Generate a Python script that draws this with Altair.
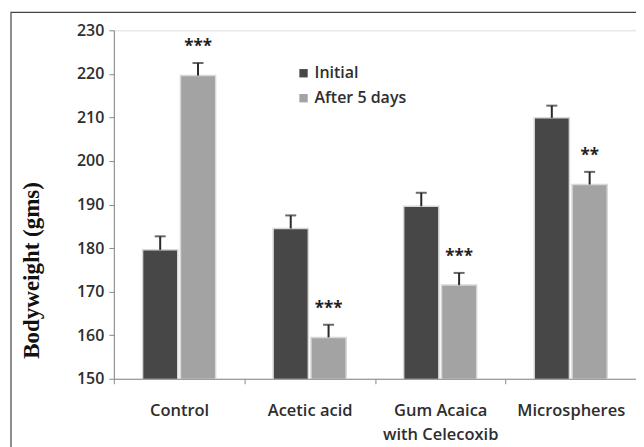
import altair as alt
import pandas as pd

groups = ["Control", "Acetic acid", "Gum Acaica|with Celecoxib", "Microspheres"]
series = ["Initial", "After 5 days"]
initial = [179.6, 184.5, 189.6, 209.9]
initial_err = [3.1, 3.0, 3.1, 2.8]
after = [219.6, 159.5, 171.5, 194.6]
after_err = [2.9, 2.9, 2.8, 2.9]
stars = ["***", "***", "***", "**"]

rows = []
for i, g in enumerate(groups):
    rows.append({"group": g, "series": series[0], "value": initial[i], "err": initial_err[i], "star": ""})
    rows.append({"group": g, "series": series[1], "value": after[i], "err": after_err[i], "star": stars[i]})
df = pd.DataFrame(rows)

FONT = "Open Sans"
W = 600
x = alt.X("group:N", sort=groups, title=None,
          scale=alt.Scale(paddingInner=0, paddingOuter=0),
          axis=alt.Axis(tickBand="extent", labelAngle=0, labelExpr="split(datum.label, '|')",
                        labelFont=FONT, labelFontSize=16.5, labelFontWeight=W, labelColor="#2e2e2e",
                        labelPadding=19, labelLineHeight=24, domainColor="#888", tickColor="#888",
                        tickSize=5, grid=False))
xo = alt.XOffset("series:N", sort=series,
                 scale=alt.Scale(paddingInner=0.07, paddingOuter=0.76))
yscale = alt.Scale(domain=[150, 230], nice=False, zero=False)
y = alt.Y("value:Q", scale=yscale,
          axis=alt.Axis(values=list(range(150, 231, 10)), grid=False, domainColor="#888",
                        tickColor="#888", tickSize=5, labelFont=FONT, labelFontSize=16,
                        labelFontWeight=W, labelColor="#2e2e2e", labelPadding=5,
                        title="Bodyweight (gms)", titleFont="Liberation Serif", titleFontSize=23,
                        titleFontWeight="bold", titleColor="#111", titleAngle=270,
                        titleX=-82, titleY=240, titleAlign="center", titleBaseline="middle"))
color = alt.Color("series:N", sort=series,
                  scale=alt.Scale(domain=series, range=["#474747", "#a3a3a3"]),
                  legend=alt.Legend(title=None, orient="none", legendX=182, legendY=35,
                                    symbolType="square", symbolSize=70, symbolStrokeWidth=0,
                                    labelFont=FONT, labelFontSize=16, labelFontWeight=W,
                                    labelColor="#2e2e2e", rowPadding=9, labelOffset=3))

base = alt.Chart(df)
bars = base.mark_bar(stroke="#d8d8d8", strokeWidth=1.5, clip=True).encode(x=x, xOffset=xo, y=y, color=color)
errtop = base.transform_calculate(top="datum.value + datum.err")
rules = errtop.mark_rule(color="#2a2a2a", strokeWidth=2).encode(
    x=x, xOffset=xo, y=alt.Y("value:Q", scale=yscale), y2="top:Q")
caps = errtop.mark_tick(color="#2a2a2a", thickness=2, size=11, orient="horizontal").encode(
    x=x, xOffset=xo, y=alt.Y("top:Q", scale=yscale))
texts = errtop.mark_text(font=FONT, fontSize=17, fontWeight="bold", color="#222",
                         baseline="bottom", dy=-7).encode(
    x=x, xOffset=xo, y=alt.Y("top:Q", scale=yscale), text="star:N")
frame = alt.Chart(pd.DataFrame({"a": [0]})).mark_rect(fill=None, stroke="#444", strokeWidth=1.2).encode(
    x=alt.value(-103), x2=alt.value(560), y=alt.value(-18), y2=alt.value(460))

chart = alt.layer(frame, bars, rules, caps, texts).properties(
    width=523, height=349,
    autosize=alt.AutoSizeParams(type="none"),
    padding={"left": 106, "top": 22, "right": 0, "bottom": 68},
).configure_view(stroke=None).configure(background="white")

chart.save("out.html", embed_options={"renderer": "svg", "actions": False})
